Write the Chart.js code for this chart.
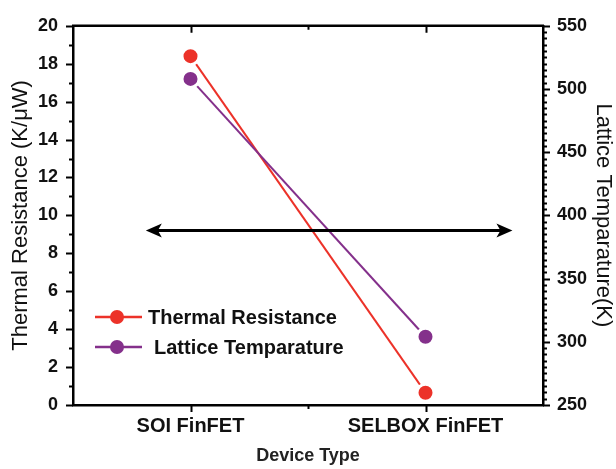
<!DOCTYPE html>
<html>
<head>
<meta charset="utf-8">
<script src="https://cdn.jsdelivr.net/npm/chart.js@4"></script>
<style>
  body { margin: 0; background: #fff; }
  #wrap { width: 616px; height: 469px; }
</style>
</head>
<body>
<div id="wrap"><canvas id="chart" width="616" height="469"></canvas></div>
<script>
const categories = ['SOI FinFET', 'SELBOX FinFET'];
const categoryPos = [1, 2];
const thermalResistance = [18.4, 0.65];   // K/uW
const latticeTemp = [508, 304];           // K
const leftTicks = [0, 2, 4, 6, 8, 10, 12, 14, 16, 18, 20];
const rightTicks = [250, 300, 350, 400, 450, 500, 550];
// double headed arrow, in axis units (x, left y)
const arrowX = [0.81, 2.37];
const arrowY = 9.2;

const FONT = '"Liberation Sans", Arial, sans-serif';
const RED = '#ec3229';
const PURPLE = '#84308b';

function range(a, b, step) {
  const out = [];
  for (let v = a; v <= b + 1e-9; v += step) out.push(+v.toFixed(4));
  return out;
}

const extras = {
  id: 'extras',
  afterDraw(chart) {
    const ctx = chart.ctx,
      area = chart.chartArea,
      x = chart.scales.x,
      y = chart.scales.y,
      y2 = chart.scales.y2;
    ctx.save();
    ctx.strokeStyle = '#000';
    ctx.lineWidth = 2;

    // left ticks (outward), minor every 1
    range(0, 20, 1).forEach((v) => {
      const p = Math.round(y.getPixelForValue(v)) + 0.5;
      const len = v % 2 === 0 ? 7 : 4;
      ctx.beginPath();
      ctx.moveTo(area.left, p);
      ctx.lineTo(area.left - len, p);
      ctx.stroke();
    });
    // right ticks (outward), minor every 5
    range(250, 550, 5).forEach((v) => {
      const p = Math.round(y2.getPixelForValue(v)) + 0.5;
      const len = v % 50 === 0 ? 7 : 4;
      ctx.beginPath();
      ctx.moveTo(area.right, p);
      ctx.lineTo(area.right + len, p);
      ctx.stroke();
    });
    // top axis line with inward ticks, bottom ticks outward
    ctx.lineWidth = 2.5;
    ctx.beginPath();
    ctx.moveTo(area.left - 1, area.top);
    ctx.lineTo(area.right + 1, area.top);
    ctx.stroke();
    ctx.lineWidth = 2;
    [1, 1.5, 2].forEach((v) => {
      const p = Math.round(x.getPixelForValue(v)) + 0.5;
      const len = Number.isInteger(v) ? 7 : 4;
      ctx.beginPath();
      ctx.moveTo(p, area.top);
      ctx.lineTo(p, area.top + len);
      ctx.moveTo(p, area.bottom);
      ctx.lineTo(p, area.bottom + len);
      ctx.stroke();
    });

    // arrow
    const ax0 = x.getPixelForValue(arrowX[0]),
      ax1 = x.getPixelForValue(arrowX[1]),
      ay = y.getPixelForValue(arrowY);
    ctx.lineWidth = 3;
    ctx.beginPath();
    ctx.moveTo(ax0 + 10, ay);
    ctx.lineTo(ax1 - 10, ay);
    ctx.stroke();
    ctx.fillStyle = '#000';
    ctx.beginPath();
    ctx.moveTo(ax0, ay);
    ctx.lineTo(ax0 + 16, ay - 7);
    ctx.lineTo(ax0 + 12, ay);
    ctx.lineTo(ax0 + 16, ay + 7);
    ctx.closePath();
    ctx.fill();
    ctx.beginPath();
    ctx.moveTo(ax1, ay);
    ctx.lineTo(ax1 - 16, ay - 7);
    ctx.lineTo(ax1 - 12, ay);
    ctx.lineTo(ax1 - 16, ay + 7);
    ctx.closePath();
    ctx.fill();

    // legend
    const rows = [
      { text: 'Thermal Resistance', color: RED, y: 317, tx: 148 },
      { text: 'Lattice Temparature', color: PURPLE, y: 347, tx: 154 },
    ];
    rows.forEach((r) => {
      ctx.strokeStyle = r.color;
      ctx.lineWidth = 2.5;
      ctx.beginPath();
      ctx.moveTo(95, r.y);
      ctx.lineTo(142, r.y);
      ctx.stroke();
      ctx.fillStyle = r.color;
      ctx.beginPath();
      ctx.arc(117, r.y, 7, 0, Math.PI * 2);
      ctx.fill();
      ctx.fillStyle = '#111';
      ctx.font = 'bold 20px ' + FONT;
      ctx.textBaseline = 'middle';
      ctx.textAlign = 'left';
      ctx.fillText(r.text, r.tx, r.y + 1);
    });
    ctx.restore();
  },
};

const toPoints = (vals) => vals.map((v, i) => ({ x: categoryPos[i], y: v }));

new Chart(document.getElementById('chart'), {
  type: 'line',
  data: {
    datasets: [
      {
        label: 'Lattice Temparature',
        data: toPoints(latticeTemp),
        yAxisID: 'y2',
        borderColor: PURPLE,
        backgroundColor: PURPLE,
        borderWidth: 2,
        pointRadius: 8.5,
        pointBorderWidth: 3,
        pointBorderColor: '#fff',
        pointBackgroundColor: PURPLE,
      },
      {
        label: 'Thermal Resistance',
        data: toPoints(thermalResistance),
        yAxisID: 'y',
        borderColor: RED,
        backgroundColor: RED,
        borderWidth: 2,
        pointRadius: 8.5,
        pointBorderWidth: 3,
        pointBorderColor: '#fff',
        pointBackgroundColor: RED,
      },
    ],
  },
  options: {
    responsive: false,
    animation: false,
    layout: { padding: { top: 18, left: 0, right: 0, bottom: 0 } },
    plugins: { legend: { display: false }, tooltip: { enabled: false } },
    scales: {
      x: {
        type: 'linear',
        min: 0.5,
        max: 2.5,
        afterBuildTicks: (s) => {
          s.ticks = categoryPos.map((v) => ({ value: v }));
        },
        afterFit: (s) => {
          s.height = 64;
        },
        grid: { display: false, drawTicks: false },
        border: { display: true, color: '#000', width: 2.5 },
        ticks: {
          padding: 9,
          color: '#111',
          font: { family: FONT, size: 20, weight: 'bold' },
          maxRotation: 0,
          callback: (v) => categories[categoryPos.indexOf(v)] || '',
        },
        title: {
          display: true,
          text: 'Device Type',
          color: '#222',
          padding: { top: 0, bottom: 2 },
          font: { family: FONT, size: 18, weight: 'bold' },
        },
      },
      y: {
        position: 'left',
        min: 0,
        max: 20,
        afterBuildTicks: (s) => {
          s.ticks = leftTicks.map((v) => ({ value: v }));
        },
        afterFit: (s) => {
          s.width = 73;
        },
        grid: { display: false, drawTicks: false },
        border: { display: true, color: '#000', width: 2.5 },
        ticks: {
          padding: 15,
          color: '#111',
          font: { family: FONT, size: 18, weight: 'bold' },
        },
        title: {
          display: true,
          text: 'Thermal Resistance (K/\u03bcW)',
          color: '#111',
          padding: { top: 8, bottom: 0 },
          font: { family: FONT, size: 22 },
        },
      },
      y2: {
        position: 'right',
        min: 250,
        max: 550,
        afterBuildTicks: (s) => {
          s.ticks = rightTicks.map((v) => ({ value: v }));
        },
        afterFit: (s) => {
          s.width = 73;
        },
        grid: { display: false, drawTicks: false },
        border: { display: true, color: '#000', width: 2.5 },
        ticks: {
          padding: 14,
          color: '#111',
          font: { family: FONT, size: 18, weight: 'bold' },
        },
        title: {
          display: true,
          text: 'Lattice Temparature(K)',
          color: '#111',
          padding: { top: 0, bottom: 0 },
          font: { family: FONT, size: 22 },
        },
      },
    },
  },
  plugins: [extras],
});
</script>
</body>
</html>
